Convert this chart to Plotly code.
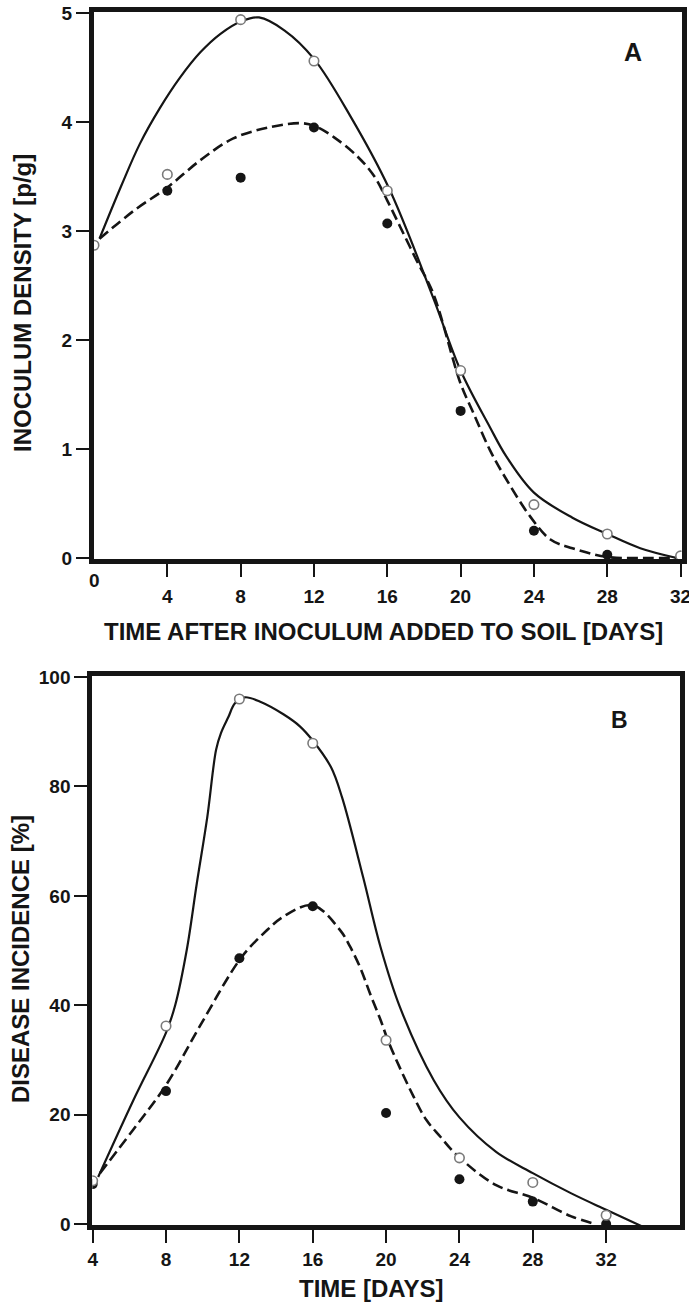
import plotly.graph_objects as go

# ---------------- Panel A: inoculum density in soil ----------------
days_a = [0, 4, 8, 12, 16, 20, 24, 28, 32]
open_a = [2.87, 3.52, 4.94, 4.56, 3.37, 1.72, 0.49, 0.22, 0.02]
filled_days_a = [4, 8, 12, 16, 20, 24, 28]
filled_a = [3.37, 3.49, 3.95, 3.07, 1.35, 0.25, 0.03]

# fitted curves, sampled along their drawn path
fit_open_a_x = [0.3, 1.5, 2.5, 3.6, 4.7, 5.8, 6.9, 8.1, 9.0, 10.4, 12.0, 14.0,
                16.1, 18.5, 20.0, 21.6, 22.5, 24.0, 26.1, 28.0, 29.8, 31.8]
fit_open_a_y = [2.93, 3.42, 3.80, 4.13, 4.41, 4.64, 4.81, 4.93, 4.96, 4.84, 4.58, 4.05,
                3.39, 2.39, 1.72, 1.20, 0.93, 0.60, 0.37, 0.22, 0.09, 0.0]
fit_filled_a_x = [0.3, 2.2, 4.0, 5.8, 7.6, 9.5, 11.3, 12.1, 13.1, 14.4, 15.3, 16.0,
                  16.7, 17.6, 18.5, 20.0, 20.7, 21.6, 22.5, 23.8, 24.9, 26.1, 28.0, 30.0, 32.0]
fit_filled_a_y = [2.93, 3.19, 3.40, 3.65, 3.85, 3.95, 3.99, 3.96, 3.86, 3.68, 3.50, 3.28,
                  3.04, 2.73, 2.43, 1.60, 1.33, 0.99, 0.72, 0.38, 0.17, 0.09, 0.01, 0.0, 0.0]

# ---------------- Panel B: disease incidence ----------------
days_b = [4, 8, 12, 16, 20, 24, 28, 32]
open_b = [7.9, 36.2, 96.0, 87.9, 33.6, 12.1, 7.6, 1.6]
filled_b = [7.3, 24.3, 48.6, 58.1, 20.3, 8.2, 4.1, 0.0]

fit_open_b_x = [4.3, 6.2, 8.0, 8.5, 9.13, 9.68, 10.25, 10.73, 11.0, 11.4, 11.76, 12.3,
                13.2, 14.4, 15.3, 16.0, 17.0, 17.6, 18.75, 19.7, 20.75, 22.6, 24.0,
                26.0, 28.0, 30.1, 32.0, 34.0]
fit_open_b_y = [8.6, 22.5, 35.0, 40.0, 50.1, 62.3, 74.4, 86.7, 89.8, 92.7, 95.2, 96.3,
                95.4, 93.2, 91.0, 88.4, 83.5, 78.0, 63.4, 50.6, 39.7, 26.3, 19.5,
                13.2, 9.3, 5.6, 2.6, -0.5]
fit_filled_b_x = [4.4, 6.2, 8.0, 9.9, 12.1, 13.5, 14.4, 16.0, 17.5, 18.04, 18.6, 19.14,
                  19.7, 20.1, 20.8, 21.5, 22.2, 22.95, 23.86, 26.0, 28.0, 30.1, 31.4]
fit_filled_b_y = [9.3, 17.2, 25.4, 36.5, 48.7, 53.7, 56.2, 58.3, 53.7, 50.7, 46.8, 42.0,
                  37.3, 33.6, 28.2, 23.3, 19.0, 16.0, 12.6, 7.1, 4.8, 1.4, 0.0]

ticks_a_x = [4, 8, 12, 16, 20, 24, 28, 32]
ticks_a_y = [0, 1, 2, 3, 4, 5]
ticks_b_x = [4, 8, 12, 16, 20, 24, 28, 32]
ticks_b_y = [0, 20, 40, 60, 80, 100]

INK = "#151515"
FONT = "Liberation Sans, Arial, sans-serif"
W, H = 689, 1307

fig = go.Figure()


def add_panel(xa, ya, fo_x, fo_y, ff_x, ff_y, dx_o, vy_o, dx_f, vy_f):
    fig.add_trace(go.Scatter(x=fo_x, y=fo_y, mode="lines", xaxis=xa, yaxis=ya,
                             line=dict(color=INK, width=2.2, shape="spline", smoothing=1.0),
                             hoverinfo="skip"))
    fig.add_trace(go.Scatter(x=ff_x, y=ff_y, mode="lines", xaxis=xa, yaxis=ya,
                             line=dict(color=INK, width=2.6, shape="spline", smoothing=1.0,
                                       dash="11px,5px"),
                             hoverinfo="skip"))
    fig.add_trace(go.Scatter(x=dx_f, y=vy_f, mode="markers", xaxis=xa, yaxis=ya,
                             marker=dict(size=10, color=INK, line=dict(width=0))))
    fig.add_trace(go.Scatter(x=dx_o, y=vy_o, mode="markers", xaxis=xa, yaxis=ya,
                             marker=dict(size=9.5, color="white",
                                         line=dict(width=1.6, color="#7a7a7a"))))


add_panel("x", "y", fit_open_a_x, fit_open_a_y, fit_filled_a_x, fit_filled_a_y,
          days_a, open_a, filled_days_a, filled_a)
add_panel("x2", "y2", fit_open_b_x, fit_open_b_y, fit_filled_b_x, fit_filled_b_y,
          days_b, open_b, days_b, filled_b)


def py(p):
    # pixel row (from top) to paper fraction
    return 1 - p / H


def px(p):
    return p / W


axis_common = dict(showline=True, linewidth=5, linecolor=INK, mirror=True,
                   ticks="outside", ticklen=13, tickwidth=1.6, tickcolor=INK,
                   showgrid=False, zeroline=False, automargin=False,
                   ticklabeloverflow="allow",
                   tickfont=dict(family=FONT, size=19, color=INK, weight="bold"))

fig.update_layout(
    width=W, height=H, autosize=False,
    margin=dict(l=0, r=0, t=0, b=0, pad=0, autoexpand=False),
    paper_bgcolor="white", plot_bgcolor="white",
    showlegend=False,
    xaxis=dict(domain=[px(94), px(681.5)], range=[0, 32.05], anchor="y",
               tickvals=ticks_a_x, ticktext=[str(v) for v in ticks_a_x],
               ticklabelstandoff=3, **axis_common),
    yaxis=dict(domain=[py(559.1), py(12)], range=[-0.01, 5.01], anchor="x",
               tickvals=ticks_a_y, ticktext=[str(v) for v in ticks_a_y], **axis_common),
    xaxis2=dict(domain=[px(92.3), px(679.5)], range=[3.98, 36.0], anchor="y2",
                tickvals=ticks_b_x, ticktext=[str(v) for v in ticks_b_x], **axis_common),
    yaxis2=dict(domain=[py(1225), py(676)], range=[-0.18, 100.2], anchor="x2",
                tickvals=ticks_b_y, ticktext=[str(v) for v in ticks_b_y], **axis_common),
)

title_font = dict(family=FONT, size=24, color=INK, weight="bold")
centered = dict(xref="paper", yref="paper", showarrow=False,
                xanchor="center", yanchor="middle")
annotations = [
    # raised zero on the day axis of panel A
    dict(text="0", x=0, xref="x", y=py(580), yref="paper", showarrow=False,
         xanchor="center", yanchor="middle",
         font=dict(family=FONT, size=19, color=INK, weight="bold")),
    dict(text="TIME AFTER INOCULUM ADDED TO SOIL [DAYS]", x=px(383), y=py(631),
         font=title_font, **centered),
    dict(text="INOCULUM DENSITY [p/g]", x=px(22), y=py(303), textangle=-90,
         font=title_font, **centered),
    dict(text="TIME [DAYS]", x=px(371), y=py(1288), font=title_font, **centered),
    dict(text="DISEASE INCIDENCE [%]", x=px(21), y=py(959), textangle=-90,
         font=title_font, **centered),
    dict(text="A", x=px(633), y=py(52),
         font=dict(family=FONT, size=25, color=INK, weight="bold"), **centered),
    dict(text="B", x=px(619), y=py(720),
         font=dict(family=FONT, size=23, color=INK, weight="bold"), **centered),
]
fig.update_layout(annotations=annotations)

fig.write_html("out.html")
